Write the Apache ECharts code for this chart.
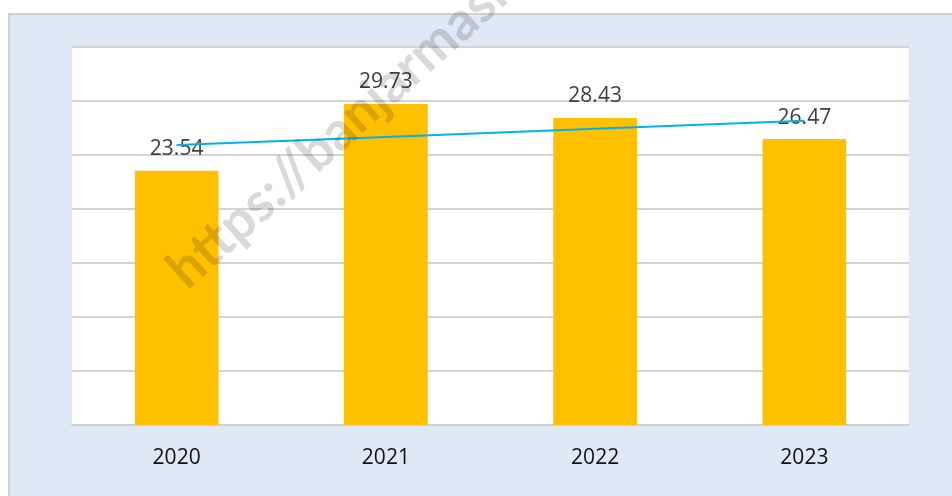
<!DOCTYPE html>
<html>
<head>
<meta charset="utf-8">
<script src="https://cdn.jsdelivr.net/npm/echarts@6/dist/echarts.min.js"></script>
<style>
html,body{margin:0;padding:0;background:#fff;}
#c{width:952px;height:496px;}
</style>
</head>
<body>
<div id="c"></div>
<script>
const categories = ['2020', '2021', '2022', '2023'];
const values = [23.54, 29.73, 28.43, 26.47];
const trendValues = [25.92, 26.67, 27.42, 28.17];

const chart = echarts.init(document.getElementById('c'));
chart.setOption({
  animation: false,
  backgroundColor: '#ffffff',
  graphic: [
    {
      type: 'rect',
      z: -10,
      shape: { x: 9, y: 14, width: 960, height: 500 },
      style: { fill: '#dee9f5', stroke: '#d0d0d0', lineWidth: 2 }
    },
    {
      type: 'text',
      z: 100,
      x: 194,
      y: 298,
      rotation: 42 * Math.PI / 180,
      style: {
        text: 'https://banjarmasinkota.bps.go.id',
        font: 'bold 54px Lato',
        fill: 'rgba(0,0,0,0.15)',
        align: 'left',
        verticalAlign: 'bottom'
      }
    }
  ],
  grid: {
    left: 72, right: 43, top: 47, bottom: 71,
    show: true, backgroundColor: '#ffffff', borderWidth: 0
  },
  xAxis: {
    type: 'category',
    data: categories,
    axisLine: { lineStyle: { color: '#d0d0d0', width: 2 } },
    axisTick: { show: false },
    axisLabel: { color: '#111', fontSize: 21, fontFamily: 'Open Sans', margin: 23 }
  },
  yAxis: {
    type: 'value',
    min: 0, max: 35, interval: 5,
    axisLabel: { show: false },
    axisLine: { show: false },
    axisTick: { show: false },
    splitLine: { lineStyle: { color: '#d4d4d4', width: 2 } }
  },
  series: [
    {
      type: 'bar',
      data: values,
      barWidth: '40%',
      itemStyle: { color: '#ffc000' },
      label: {
        show: true, position: 'top', distance: 11,
        color: '#404040', fontSize: 21, fontFamily: 'Open Sans',
        formatter: p => p.value.toFixed(2)
      }
    },
    {
      type: 'line',
      data: trendValues,
      symbol: 'none',
      lineStyle: { color: '#00b0f0', width: 2 },
      z: 5
    }
  ]
});
</script>
</body>
</html>
